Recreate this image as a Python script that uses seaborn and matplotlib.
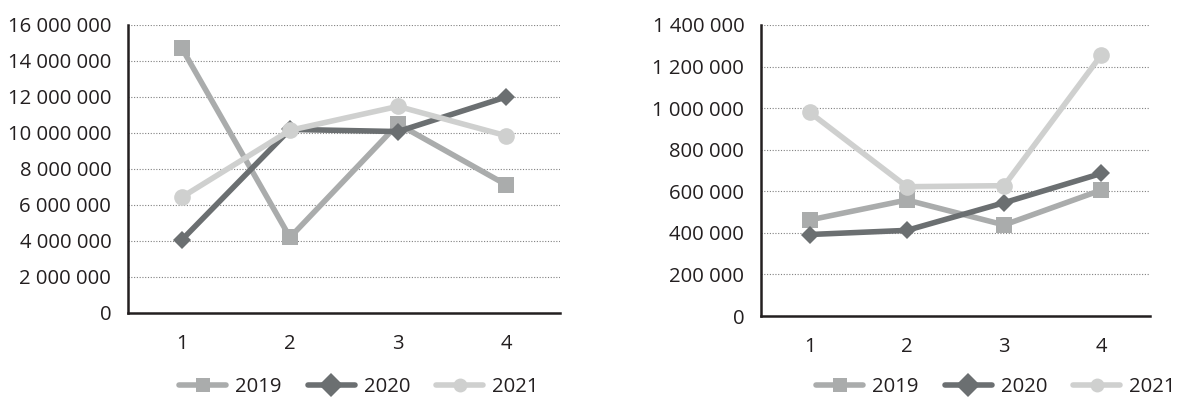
import copy
import numpy as np
import pandas as pd
import matplotlib
matplotlib.use("Agg")
import matplotlib.pyplot as plt
import matplotlib.ticker as mticker
import seaborn as sns

quarters = [1, 2, 3, 4]
years = ["2019", "2020", "2021"]

left_2019 = [14_700_000, 4_200_000, 10_500_000, 7_130_000]
left_2020 = [4_070_000, 10_200_000, 10_080_000, 12_000_000]
left_2021 = [6_440_000, 10_150_000, 11_480_000, 9_850_000]

right_2019 = [462_000, 558_000, 438_000, 606_000]
right_2020 = [392_000, 412_000, 545_000, 686_000]
right_2021 = [980_000, 622_000, 627_000, 1_256_000]

left_ticks = [0, 2_000_000, 4_000_000, 6_000_000, 8_000_000, 10_000_000,
              12_000_000, 14_000_000, 16_000_000]
right_ticks = [0, 200_000, 400_000, 600_000, 800_000, 1_000_000,
               1_200_000, 1_400_000]

palette = {"2019": "#aaacac", "2020": "#6b6f71", "2021": "#cfd0cf"}
markers = {"2019": "s", "2020": "D", "2021": "o"}
marker_sizes = {"2019": 11, "2020": 9, "2021": 12}
legend_marker_sizes = {"2019": 10, "2020": 12, "2021": 10}

sns.set_theme(style="white")
plt.rcParams["font.family"] = ["Open Sans", "DejaVu Sans"]

FS = 14.6
TEXT = "#231f20"


def long_frame(s19, s20, s21):
    rows = []
    for year, vals in zip(years, [s19, s20, s21]):
        for q, v in zip(quarters, vals):
            rows.append({"quarter": q, "value": v, "year": year})
    return pd.DataFrame(rows)


def space_fmt(v, _):
    return f"{int(round(v)):,}".replace(",", " ")


fig = plt.figure(figsize=(11.79, 4.03), dpi=100)
ax_l = fig.add_axes([128 / 1179, 1 - 313 / 403, (560 - 128) / 1179, (313 - 25) / 403])
ax_r = fig.add_axes([761 / 1179, 1 - 316 / 403, (1150 - 761) / 1179, (316 - 25) / 403])

panels = [
    (ax_l, long_frame(left_2019, left_2020, left_2021), left_ticks, 359 / 1179),
    (ax_r, long_frame(right_2019, right_2020, right_2021), right_ticks, 996 / 1179),
]

for ax, df, ticks, legend_x in panels:
    for year in years:
        sub = df[df["year"] == year]
        sns.lineplot(data=sub, x="quarter", y="value", ax=ax,
                     color=palette[year], marker=markers[year],
                     markersize=marker_sizes[year], markeredgewidth=0,
                     linewidth=4, label=year, zorder=3)
    ax.set_xlim(0.5, 4.5)
    ax.set_ylim(ticks[0], ticks[-1])
    ax.set_yticks(ticks)
    ax.yaxis.set_major_formatter(mticker.FuncFormatter(space_fmt))
    ax.set_xticks(quarters)
    ax.set_xticklabels([str(q) for q in quarters])
    ax.xaxis.set_minor_locator(mticker.FixedLocator([0.5, 1.5, 2.5, 3.5, 4.5]))
    ax.tick_params(axis="x", which="major", length=0, pad=15, labelsize=FS, colors=TEXT)
    ax.tick_params(axis="x", which="minor", length=7, width=1.2, color="#222222", direction="out")
    ax.tick_params(axis="y", length=0, pad=12, labelsize=FS, colors=TEXT)
    ax.set_xlabel("")
    ax.set_ylabel("")
    ax.grid(axis="y", linestyle=(0, (1, 1.5)), color="#808080", linewidth=0.8)
    ax.set_axisbelow(True)
    for side in ["top", "right"]:
        ax.spines[side].set_visible(False)
    for side in ["left", "bottom"]:
        ax.spines[side].set_color(TEXT)
        ax.spines[side].set_linewidth(1.8)
    ax.get_legend().remove()
    handles, labels = ax.get_legend_handles_labels()
    legend_handles = []
    for h, lab in zip(handles, labels):
        hc = copy.copy(h)
        hc.set_markersize(legend_marker_sizes[lab])
        legend_handles.append(hc)
    fig.legend(legend_handles, labels, loc="center", bbox_to_anchor=(legend_x, 1 - 387 / 403),
               ncol=3, frameon=False, fontsize=FS, handlelength=2.3,
               columnspacing=1.3, handletextpad=0.45, labelcolor=TEXT)

fig.savefig("out.png", dpi=100)
